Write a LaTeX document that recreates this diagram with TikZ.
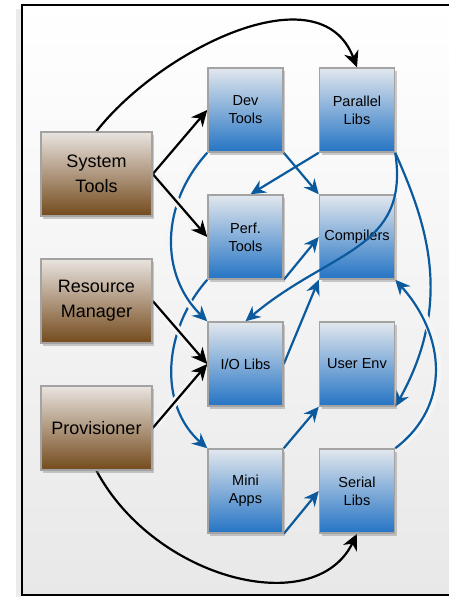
\documentclass[tikz,border=0pt]{standalone}
\usepackage{fontspec}
\setmainfont{Liberation Sans}
\usetikzlibrary{positioning,shadows,arrows.meta}
\definecolor{boxblue}{HTML}{2474C4}
\definecolor{boxsky}{HTML}{E2E7EE}
\definecolor{boxbrown}{HTML}{744A1C}
\definecolor{boxsand}{HTML}{E9E4E0}
\definecolor{linkblue}{HTML}{0B5A9E}
\definecolor{boxedge}{HTML}{A3A3A3}
\pgfdeclarelayer{bg}
\pgfsetlayers{bg,main}

\begin{document}
\begin{tikzpicture}[x=1pt, y=-1pt, on grid, node distance={127pt and 111.5pt},
    main/.style = {draw=boxedge, line width=1.5pt, minimum width=75pt, minimum height=84pt, inner sep=0pt,
        top color=boxsky, bottom color=boxblue, align=center, font=\fontsize{14.5}{18}\selectfont,
        drop shadow={shadow xshift=2pt, shadow yshift=-3pt, opacity=.4}},
    tool/.style = {main, minimum width=111pt, top color=boxsand, bottom color=boxbrown, font=\fontsize{18}{25}\selectfont},
    link/.style = {draw=linkblue, line width=2.2pt, -{Stealth[length=15pt, width=14pt, inset=5pt]}},
    feed/.style = {draw=black, line width=2.2pt, -{Stealth[length=16pt, width=15pt, inset=5pt]}},
    hop/.style = {preaction={draw=black!4, line width=8pt, -, shorten >=20pt, shorten <=6pt}}]
    \useasboundingbox (0,0) rectangle (448,597);

    \node[main] (1) at (245.5,110) {Dev\\Tools};
    \node[main] (2) [right=of 1] {Parallel\\Libs};
    \node[main] (3) [below=of 1] {Perf.\\Tools};
    \node[main] (4) [below=of 2] {Compilers};
    \node[main] (5) [below=of 3] {I/O Libs};
    \node[main] (6) [below=of 4] {User Env};
    \node[main] (7) [below=of 5] {Mini\\Apps};
    \node[main] (8) [below=of 6] {Serial\\Libs};
    \node[tool] (9) at (96.5,174) {System\\Tools};
    \node[tool] (10) [below=of 9] {Resource\\Manager};
    \node[tool] (11) [below=of 10] {Provisioner};

    \begin{pgfonlayer}{bg}
        % frame
        \fill[black!8] (16,9) rectangle (21,597);
        \draw[line width=2pt, top color=white, bottom color=black!9] (22,5) rectangle (470,595);

        % blue links
        \draw[link] (3.south west) .. controls (163,330) and (158,405) .. (7.north west);
        \draw[link, hop] (1.south west) .. controls (160,205) and (160,275) .. (5.north west);
        \draw[link] (1.south east) -- (4.north west);
        \draw[link] (2.south west) -- ([xshift=5pt]3.north);
        \draw[link] (3.south east) -- (4.west);
        \draw[link] (5.east) -- (4.south west);
        \draw[link] (2.south east) .. controls (425,220) and (455,300) .. (6.south east);
        \draw[link, hop] (8.north east) .. controls (452,405) and (445,335) .. (4.south east);
        \draw[link] (7.north east) -- (6.south west);
        \draw[link] (7.south east) -- (8.west);

        % black feeds
        \draw[feed] (9.north) .. controls (160,50) and (320,-30) .. (2.north);
        \draw[feed, hop] (9.east) -- (3.west);
        \draw[feed] (9.east) -- (1.west);
        \draw[feed, hop] (10.east) -- (5.west);
        \draw[feed, hop] (11.east) -- (5.west);
        \draw[feed] (11.south) .. controls (155,580) and (315,620) .. (8.south);
    \end{pgfonlayer}

    \draw[link] (2.south east) .. controls (410,250) and (330,250) .. (5.north);
\end{tikzpicture}
\end{document}
